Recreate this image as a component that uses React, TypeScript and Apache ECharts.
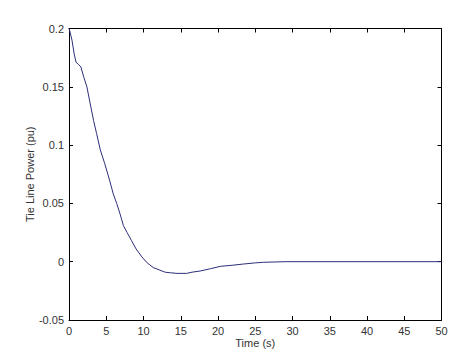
import React, { useEffect, useRef } from "react";
import * as echarts from "echarts";

const timeS: number[] = [0, 0.1, 0.4, 0.7, 0.95, 1.3, 1.6, 2.0, 2.4, 2.8, 3.3, 3.7, 4.2, 4.8, 5.4, 5.95, 6.4, 6.9, 7.3, 7.8, 8.4, 9.0, 9.8, 10.5, 11.3, 12.1, 12.9, 13.6, 14.5, 15.8, 16.5, 17.6, 19, 20.3, 22, 23.4, 25, 26.1, 29, 50];
const power: number[] = [0.2, 0.198, 0.19, 0.178, 0.171, 0.169, 0.167, 0.158, 0.15, 0.137, 0.121, 0.11, 0.096, 0.084, 0.071, 0.058, 0.05, 0.04, 0.031, 0.025, 0.018, 0.011, 0.004, -0.001, -0.005, -0.007, -0.009, -0.0095, -0.01, -0.01, -0.009, -0.008, -0.006, -0.004, -0.003, -0.002, -0.001, -0.0005, 0, 0];

const xName = "Time (s)";
const yName = "Tie Line Power (pu)";

export default function App() {
  const ref = useRef<HTMLDivElement>(null);
  useEffect(() => {
    if (!ref.current) return;
    const chart = echarts.init(ref.current, null, { renderer: "svg" });
    const font = "Liberation Sans, Arial, sans-serif";
    const labelStyle = { color: "#333", fontSize: 11, fontFamily: font };
    const axisLine = { show: true, onZero: false, lineStyle: { color: "#000", width: 1 } };
    const tick = { show: true, inside: true, length: 4, lineStyle: { color: "#000" } };
    chart.setOption({
      animation: false,
      backgroundColor: "#fff",
      grid: { left: 69, top: 28.5, right: 20.5, bottom: 32, outerBoundsMode: "none", containLabel: false },
      xAxis: [
        {
          type: "value", min: 0, max: 50, interval: 5,
          axisLine, axisTick: tick, splitLine: { show: false },
          axisLabel: { ...labelStyle, margin: 5 },
          name: xName, nameLocation: "middle", nameGap: 17, nameMoveOverlap: false,
          nameTextStyle: { ...labelStyle, verticalAlign: "top" },
        },
        {
          type: "value", position: "top", min: 0, max: 50, interval: 5,
          axisLine, axisTick: tick, splitLine: { show: false }, axisLabel: { show: false },
        },
      ],
      yAxis: [
        {
          type: "value", min: -0.05, max: 0.2, interval: 0.05,
          axisLine, axisTick: tick, splitLine: { show: false },
          axisLabel: { ...labelStyle, margin: 5 },
          name: yName, nameLocation: "middle", nameGap: 39, nameMoveOverlap: false,
          nameTextStyle: { ...labelStyle, verticalAlign: "middle" },
        },
        {
          type: "value", position: "right", min: -0.05, max: 0.2, interval: 0.05,
          axisLine, axisTick: tick, splitLine: { show: false }, axisLabel: { show: false },
        },
      ],
      series: [
        {
          type: "line",
          data: timeS.map((t, i) => [t, power[i]]),
          showSymbol: false,
          lineStyle: { color: "#2e2e7a", width: 1 },
          color: "#2e2e7a",
        },
      ],
    });
    return () => chart.dispose();
  }, []);
  return <div ref={ref} style={{ position: "fixed", left: 0, top: 0, width: 462, height: 352 }} />;
}
